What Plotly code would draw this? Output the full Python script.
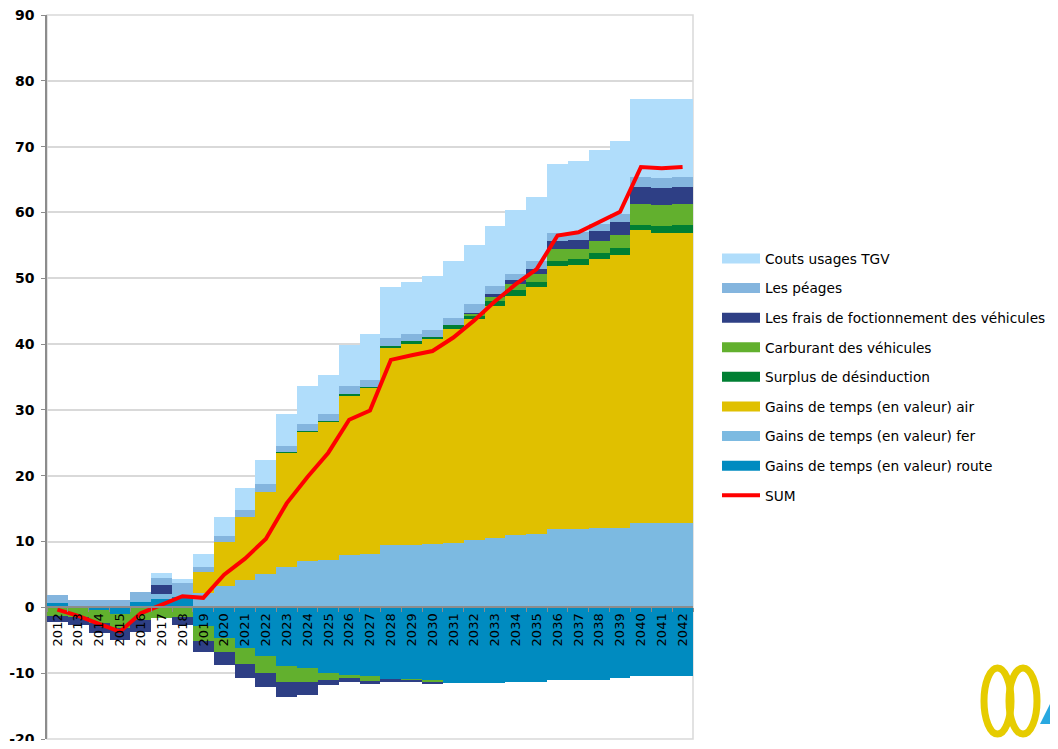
import plotly.graph_objects as go

years = [str(y) for y in range(2012, 2043)]

route = [0.7, 0, -0.4, -1.0, 0.9, 1.3, 1.65, -2.8, -4.6, -6.1, -7.4, -8.85, -9.25, -9.9, -10.3, -10.45,
         -10.95, -10.9, -11.1, -11.45, -11.45, -11.45, -11.3, -11.3, -11.05, -11.05, -11.05, -10.8,
         -10.4, -10.4, -10.4]
fer = [0, 0, 0, 0, 0.25, 0.7, 0.5, 2.15, 3.2, 4.1, 5.05, 6.1, 7.0, 7.2, 7.9, 8.1, 9.4, 9.4, 9.65,
       9.8, 10.3, 10.5, 11.0, 11.2, 11.85, 11.85, 12.05, 12.05, 12.75, 12.75, 12.75]
air = [0, 0, 0, 0, 0, 0, 0, 3.25, 6.7, 9.7, 12.55, 17.4, 19.7, 21.1, 24.3, 25.25, 30.15, 30.6, 31.05,
       32.45, 33.5, 35.3, 36.3, 37.5, 40.05, 40.15, 40.85, 41.5, 44.55, 44.2, 44.1]
surplus = [0, 0, 0, 0, 0, 0, 0, 0, 0, 0, 0, 0.1, 0.15, 0.05, 0.15, 0.2, 0.2, 0.45, 0.4, 0.6, 0.6,
           0.75, 0.9, 0.75, 0.75, 1.0, 1.0, 1.0, 0.8, 1.0, 1.25]
carburant = [-1.3, -1.4, -2.0, -2.2, -1.9, -1.55, -1.5, -2.3, -2.2, -2.55, -2.5, -2.55, -2.15, -1.1,
             -0.4, -0.7, -0.05, -0.25, -0.25, 0, 0.3, 0.65, 0.9, 1.15, 1.75, 1.5, 1.8, 2.0, 3.15,
             3.15, 3.15]
frais = [-0.85, -1.3, -1.45, -1.75, -1.8, 1.4, -1.25, -1.7, -1.95, -2.15, -2.15, -2.2, -1.9, -0.8,
         -0.7, -0.45, -0.3, -0.25, -0.25, 0, 0.05, 0.35, 0.6, 0.8, 1.25, 1.35, 1.45, 1.95, 2.6, 2.6,
         2.6]
peages = [1.2, 1.15, 1.15, 1.15, 1.25, 1.1, 1.55, 0.8, 1.0, 0.95, 1.1, 0.85, 1.05, 1.1, 1.25, 1.05,
          1.15, 1.05, 1.1, 1.05, 1.4, 1.25, 1.0, 1.3, 1.25, 1.25, 1.15, 1.3, 1.5, 1.5, 1.5]
tgv = [0, 0, 0, 0, 0, 0.7, 0.6, 1.95, 2.8, 3.35, 3.75, 4.9, 5.7, 5.9, 6.3, 6.9, 7.7, 8.0, 8.15, 8.7,
       8.95, 9.15, 9.6, 9.7, 10.5, 10.65, 11.15, 11.1, 11.85, 12.05, 11.85]
sum_line = [-0.35, -1.3, -2.5, -3.7, -0.9, 0.4, 1.7, 1.45, 4.95, 7.4, 10.4, 15.8, 19.8, 23.5, 28.5,
            29.9, 37.6, 38.3, 38.95, 41.0, 43.6, 46.5, 49.1, 51.4, 56.5, 57.0, 58.6, 60.1, 66.9,
            66.7, 66.9]

y_ticks = [-20, -10, 0, 10, 20, 30, 40, 50, 60, 70, 80, 90]
y_tick_text = ["-20", "-10", "0", "10", "20", "30", "40", "50", "60", "70", "80", "90"]

series = [
    ("Gains de temps (en valeur) route", route, "#008BC0"),
    ("Gains de temps (en valeur) fer", fer, "#7CBAE1"),
    ("Gains de temps (en valeur) air", air, "#E0C000"),
    ("Surplus de désinduction", surplus, "#007F33"),
    ("Carburant des véhicules", carburant, "#62B02E"),
    ("Les frais de foctionnement des véhicules", frais, "#2E3F85"),
    ("Les péages", peages, "#84B5DE"),
    ("Couts usages TGV", tgv, "#B0DDFB"),
]

fig = go.Figure()
for name, vals, col in series:
    fig.add_trace(go.Bar(x=years, y=vals, name=name, marker=dict(color=col, line=dict(width=0)),
                         showlegend=False))

fig.add_trace(go.Scatter(x=years, y=sum_line, name="SUM", mode="lines",
                         line=dict(color="#FF0000", width=4), showlegend=False))

# legend entries
for k, (name, vals, col) in enumerate(series):
    fig.add_trace(go.Scatter(x=[None], y=[None], mode="lines", name=name,
                             line=dict(color=col, width=10), legendrank=100 - k,
                             legendgroup=name))
fig.add_trace(go.Scatter(x=[None], y=[None], mode="lines", name="SUM",
                         line=dict(color="#FF0000", width=4), legendrank=200, legendgroup="SUM"))

# page has an 8px body margin: figure coordinates = page pixels - OFF
OFF = 8
W, H = 1058 - 2 * OFF, 749 - 2 * OFF
L, R, T, B = 47 - OFF, 693 - OFF, 15 - OFF, 739 - OFF


def px(x):
    return (x - OFF - L) / (R - L)


def py(y):
    return (B - (y - OFF)) / (B - T)


logo = [
    dict(type="circle", xref="paper", yref="paper", x0=px(984), x1=px(1011), y0=py(734), y1=py(668),
         line=dict(color="#E6CC00", width=7), layer="above"),
    dict(type="circle", xref="paper", yref="paper", x0=px(1009), x1=px(1037), y0=py(734), y1=py(668),
         line=dict(color="#E6CC00", width=7), layer="above"),
    dict(type="path", xref="paper", yref="paper",
         path=f"M{px(1040)},{py(724)} L{px(1050)},{py(704)} L{px(1050)},{py(724)} Z",
         fillcolor="#29A8E0", line=dict(width=0), layer="above"),
]

fig.update_layout(
    width=W, height=H,
    barmode="relative", bargap=0,
    paper_bgcolor="white", plot_bgcolor="white",
    margin=dict(l=L, r=W - R, t=T, b=H - B, autoexpand=False),
    font=dict(family="DejaVu Sans", size=13, color="#000000"),
    legend=dict(x=px(717), y=py(243), xanchor="left", yanchor="top",
                font=dict(family="DejaVu Sans", size=13.7, color="#000000"),
                tracegroupgap=8.8, itemwidth=38, bgcolor="rgba(0,0,0,0)"),
    xaxis=dict(type="category", range=[-0.5, 30.5], anchor="free", position=20 / 110,
               tickangle=-90, ticks="outside", tickson="boundaries", ticklen=4,
               tickcolor="#8C8C8C", showline=True, linecolor="#8C8C8C", linewidth=1.5,
               showgrid=False, automargin=False,
               tickfont=dict(size=13, family="DejaVu Sans", color="#000")),
    yaxis=dict(range=[-20, 90], tickmode="array", tickvals=y_ticks, ticktext=y_tick_text,
               showgrid=True, gridcolor="#D9D9D9", gridwidth=1.5, automargin=False,
               zeroline=False, showline=True, linecolor="#8C8C8C", linewidth=1.5,
               ticks="outside", ticklen=4, tickcolor="#8C8C8C", ticklabelstandoff=4,
               ticklabeloverflow="allow",
               tickfont=dict(size=14, family="DejaVu Sans", color="#000", weight="bold")),
    shapes=[dict(type="rect", xref="paper", yref="paper", x0=0, x1=1, y0=0, y1=1,
                 line=dict(color="#D9D9D9", width=1.5), layer="below")] + logo,
)

fig.write_html("out.html")
